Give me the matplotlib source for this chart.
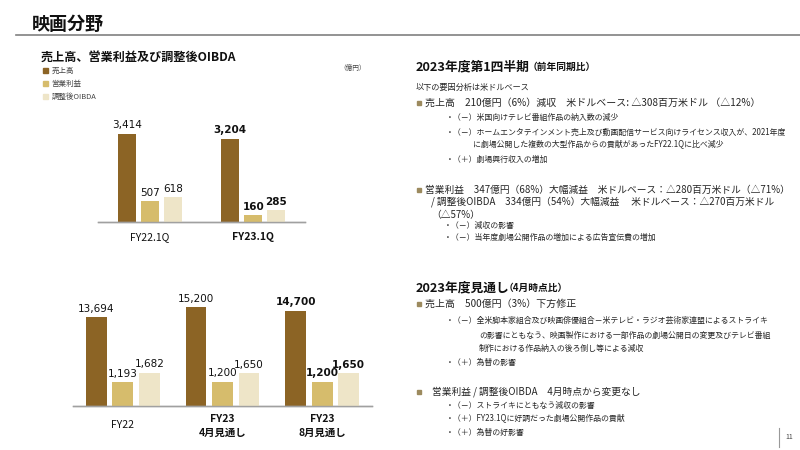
import matplotlib
matplotlib.use("Agg")
import matplotlib.pyplot as plt
import numpy as np

plt.rcParams['font.family'] = ['Noto Sans CJK JP', 'DejaVu Sans']

# data (億円)
series = ["売上高", "営業利益", "調整後OIBDA"]
colors = ["#8C6425", "#D6BC6C", "#EEE5C8"]

q_cats = ["FY22.1Q", "FY23.1Q"]
q_sales = [3414, 3204]
q_op = [507, 160]
q_oibda = [618, 285]
q_bold = [False, True]

y_cats = ["FY22", "FY23\n4月見通し", "FY23\n8月見通し"]
y_sales = [13694, 15200, 14700]
y_op = [1193, 1200, 1200]
y_oibda = [1682, 1650, 1650]
y_bold_val = [False, False, True]
y_bold_cat = [False, True, True]

W, H = 800, 450
fig = plt.figure(figsize=(8, 4.5), dpi=100)
fig.patch.set_facecolor("white")


def T(x, y, s, size=6, weight="normal", color="#262626", ha="left", **kw):
    fig.text(x / W, 1 - y / H, s, fontsize=size, fontweight=weight,
             color=color, ha=ha, va="center", **kw)


def px_axes(x0, x1, y_base, h):
    return fig.add_axes([x0 / W, 1 - y_base / H, (x1 - x0) / W, h / H])


# header
T(32, 24, "映画分野", size=13, weight="bold", color="#111111")
fig.add_artist(plt.Line2D([16 / W, 1], [1 - 35 / H, 1 - 35 / H],
                          color="#808080", lw=1.2))
T(41, 57, "売上高、営業利益及び調整後OIBDA", size=8.7, weight="bold", color="#111111")
for i, (name, c) in enumerate(zip(series, colors)):
    yy = 70.5 + i * 13
    fig.add_artist(plt.Rectangle(((45 - 2.5) / W, 1 - (yy + 2.5) / H), 5 / W, 5 / H,
                                 color=c, transform=fig.transFigure))
    T(51.5, yy, name, size=5.4, color="#444444")
T(339, 68, "（億円）", size=4.8, color="#444444")


def draw(ax, cats, vals, width, off, ymax_main, ymax_sub, bold_val, bold_cat,
         cat_y, fs):
    # 売上高 on the main scale, 営業利益/OIBDA on their own scale
    ax2 = ax.twinx()
    x = np.arange(len(cats))
    for k, (v, c) in enumerate(zip(vals, colors)):
        a = ax if k == 0 else ax2
        ymax = ymax_main if k == 0 else ymax_sub
        pos = x + (k - 1) * off
        a.bar(pos, v, width=width, color=c, zorder=2)
        for j, (p, val) in enumerate(zip(pos, v)):
            a.text(p, val + ymax * 0.035, f"{val:,}", ha="center", va="bottom",
                   fontsize=fs, family="DejaVu Sans",
                   fontweight="bold" if bold_val[j] else "normal",
                   color="#111111")
    ax.set_ylim(0, ymax_main)
    ax2.set_ylim(0, ymax_sub)
    for a in (ax, ax2):
        a.set_xlim(-0.5, len(cats) - 0.5)
        for s in ["top", "right", "left"]:
            a.spines[s].set_visible(False)
        a.spines["bottom"].set_color("#A0A0A0")
        a.spines["bottom"].set_linewidth(1)
        a.set_yticks([])
        a.set_xticks(x)
        a.set_xticklabels([])
        a.tick_params(length=0)
    for j, cname in enumerate(cats):
        ax.text(j, cat_y, cname, ha="center", va="center", fontsize=fs,
                fontweight="bold" if bold_cat[j] else "normal",
                transform=ax.get_xaxis_transform(), color="#111111",
                linespacing=1.5)


ax1 = px_axes(98, 305, 221.5, 100)
draw(ax1, q_cats, [q_sales, q_op, q_oibda], 0.175, 0.223,
     3414 * 100 / 88, 100 / 0.0395, q_bold, q_bold, -0.16, 7.5)

ax3 = px_axes(73, 372, 405.5, 100)
draw(ax3, y_cats, [y_sales, y_op, y_oibda], 0.21, 0.266,
     13694 * 100 / 88.4, 100 / 0.0196, y_bold_val, y_bold_cat, -0.2, 7.5)

# right-hand commentary
sq = "#9C8A5E"


def bullet(y, x=419):
    fig.add_artist(plt.Rectangle(((x - 2.3) / W, 1 - (y + 2.3) / H), 4.6 / W, 4.6 / H,
                                 color=sq, transform=fig.transFigure))


T(416, 67, "2023年度第1四半期", size=9.2, weight="bold", color="#111111")
T(528, 67, "（前年同期比）", size=7, weight="bold", color="#111111")
T(416, 87, "以下の要因分析は米ドルベース", size=5.9)
bullet(103)
T(425, 103, "売上高　210億円（6%）減収　米ドルベース: △308百万米ドル （△12%）", size=7.2)
T(446, 117, "・（－）米国向けテレビ番組作品の納入数の減少", size=5.7)
T(446, 132, "・（－）ホームエンタテインメント売上及び動画配信サービス向けライセンス収入が、2021年度", size=5.7)
T(473, 144, "に劇場公開した複数の大型作品からの貢献があったFY22.1Qに比べ減少", size=5.7)
T(446, 159, "・（＋）劇場興行収入の増加", size=5.7)

bullet(190)
T(425, 190, "営業利益　347億円（68%）大幅減益　米ドルベース：△280百万米ドル（△71%）", size=7)
T(431, 202, "/ 調整後OIBDA　334億円（54%）大幅減益　 米ドルベース：△270百万米ドル", size=7)
T(431, 215, "（△57%）", size=7)
T(444, 225, "・（－）減収の影響", size=5.7)
T(444, 237, "・（－）当年度劇場公開作品の増加による広告宣伝費の増加", size=5.7)

T(416, 288, "2023年度見通し", size=9.2, weight="bold", color="#111111")
T(504, 288, "（4月時点比）", size=7, weight="bold", color="#111111")
bullet(304)
T(425, 304, "売上高　500億円（3%）下方修正", size=7.2)
T(446, 320, "・（－）全米脚本家組合及び映画俳優組合－米テレビ・ラジオ芸術家連盟によるストライキ", size=5.7)
T(479, 335, "の影響にともなう、映画製作における一部作品の劇場公開日の変更及びテレビ番組", size=5.7)
T(479, 348, "制作における作品納入の後ろ倒し等による減収", size=5.7)
T(446, 363, "・（＋）為替の影響", size=5.7)

bullet(392)
T(432, 392, "営業利益 / 調整後OIBDA　4月時点から変更なし", size=7)
T(446, 405, "・（－）ストライキにともなう減収の影響", size=5.7)
T(446, 418, "・（＋）FY23.1Qに好調だった劇場公開作品の貢献", size=5.7)
T(446, 432, "・（＋）為替の好影響", size=5.7)

# page number
fig.add_artist(plt.Line2D([779 / W, 779 / W], [1 - 428 / H, 1 - 447 / H],
                          color="#999999", lw=0.8))
T(789, 437, "11", size=5, color="#444444", ha="center")

fig.savefig("out.png", dpi=100, facecolor="white")
